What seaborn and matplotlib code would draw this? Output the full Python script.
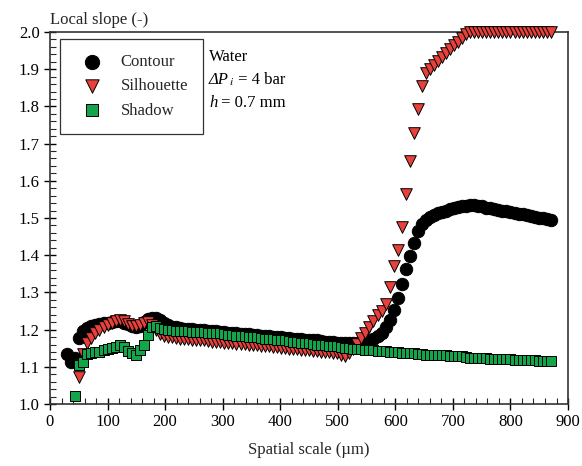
import numpy as np
import pandas as pd
import matplotlib
matplotlib.use("Agg")
import matplotlib.pyplot as plt
import seaborn as sns
from matplotlib.ticker import MultipleLocator
from matplotlib.offsetbox import TextArea, HPacker, VPacker, AnchoredOffsetbox

# spatial scale sampling (µm) and local slopes
SCALE_STEP = 7
contour = [
    1.135, 1.112, 1.125, 1.178, 1.196, 1.205, 1.210, 1.213, 1.215, 1.217,
    1.218, 1.220, 1.222, 1.222, 1.219, 1.214, 1.209, 1.207, 1.211, 1.220,
    1.228, 1.232, 1.232, 1.227, 1.219, 1.212, 1.208, 1.206, 1.204, 1.203,
    1.202, 1.201, 1.200, 1.200, 1.198, 1.197, 1.197, 1.195, 1.194, 1.193,
    1.192, 1.192, 1.190, 1.189, 1.189, 1.187, 1.186, 1.186, 1.184, 1.183,
    1.182, 1.181, 1.181, 1.179, 1.178, 1.178, 1.176, 1.175, 1.175, 1.173,
    1.172, 1.171, 1.171, 1.169, 1.168, 1.168, 1.166, 1.165, 1.164, 1.163,
    1.163, 1.164, 1.165, 1.167, 1.169, 1.172, 1.176, 1.183, 1.192, 1.207,
    1.225, 1.252, 1.285, 1.322, 1.362, 1.398, 1.432, 1.466, 1.485, 1.496,
    1.504, 1.509, 1.513, 1.517, 1.520, 1.523, 1.526, 1.529, 1.531, 1.533,
    1.534, 1.534, 1.533, 1.531, 1.528, 1.526, 1.524, 1.522, 1.520, 1.518,
    1.516, 1.514, 1.512, 1.510, 1.508, 1.506, 1.503, 1.501, 1.499, 1.497,
    1.494,
]
contour_start = 30

silhouette = [
    1.072, 1.135, 1.165, 1.178, 1.192, 1.200, 1.207, 1.212, 1.218, 1.222,
    1.225, 1.222, 1.216, 1.211, 1.209, 1.213, 1.219, 1.221, 1.212, 1.198,
    1.189, 1.184, 1.181, 1.180, 1.177, 1.176, 1.176, 1.174, 1.173, 1.172,
    1.171, 1.171, 1.169, 1.168, 1.168, 1.166, 1.165, 1.165, 1.163, 1.162,
    1.161, 1.161, 1.159, 1.158, 1.158, 1.156, 1.155, 1.155, 1.153, 1.152,
    1.151, 1.151, 1.149, 1.148, 1.148, 1.146, 1.145, 1.145, 1.143, 1.142,
    1.141, 1.141, 1.139, 1.138, 1.136, 1.133, 1.128, 1.138, 1.148, 1.162,
    1.178, 1.192, 1.207, 1.222, 1.238, 1.250, 1.268, 1.315, 1.370, 1.415,
    1.475, 1.565, 1.652, 1.728, 1.792, 1.855, 1.889, 1.900, 1.910, 1.922,
    1.932, 1.943, 1.954, 1.965, 1.974, 1.984, 1.994, 2.000, 2.000, 2.000,
    2.000, 2.000, 2.000, 2.000, 2.000, 2.000, 2.000, 2.000, 2.000, 2.000,
    2.000, 2.000, 2.000, 2.000, 2.000, 2.000, 2.000, 2.000,
]
silhouette_start = 51

shadow = [
    1.022, 1.105, 1.114, 1.134, 1.138, 1.140, 1.141, 1.144, 1.147, 1.150,
    1.154, 1.158, 1.153, 1.143, 1.137, 1.133, 1.145, 1.160, 1.186, 1.206,
    1.209, 1.204, 1.201, 1.199, 1.198, 1.197, 1.196, 1.195, 1.195, 1.194,
    1.194, 1.193, 1.193, 1.192, 1.192, 1.191, 1.190, 1.188, 1.186, 1.185,
    1.184, 1.183, 1.182, 1.181, 1.180, 1.179, 1.178, 1.176, 1.175, 1.174,
    1.173, 1.172, 1.171, 1.170, 1.168, 1.166, 1.165, 1.164, 1.163, 1.162,
    1.160, 1.159, 1.158, 1.157, 1.156, 1.155, 1.153, 1.151, 1.150, 1.149,
    1.148, 1.147, 1.146, 1.145, 1.144, 1.143, 1.142, 1.142, 1.141, 1.140,
    1.139, 1.138, 1.137, 1.137, 1.136, 1.135, 1.134, 1.133, 1.133, 1.132,
    1.132, 1.131, 1.131, 1.130, 1.130, 1.129, 1.128, 1.126, 1.125, 1.124,
    1.124, 1.123, 1.123, 1.122, 1.122, 1.121, 1.121, 1.120, 1.120, 1.119,
    1.119, 1.118, 1.118, 1.117, 1.117, 1.116, 1.116, 1.115, 1.115,
]
shadow_start = 44


def series_frame(values, start, name):
    x = start + SCALE_STEP * np.arange(len(values))
    return pd.DataFrame({"scale": x, "slope": values, "method": name})


df = pd.concat([
    series_frame(contour, contour_start, "Contour"),
    series_frame(silhouette, silhouette_start, "Silhouette"),
    series_frame(shadow, shadow_start, "Shadow"),
])

sns.set_style("ticks")
plt.rcParams["font.family"] = ["Liberation Serif", "DejaVu Serif"]
plt.rcParams["mathtext.fontset"] = "stix"
plt.rcParams["font.size"] = 12

fig = plt.figure(figsize=(5.82, 4.66), dpi=100)
ax = fig.add_axes([0.0859, 0.133, 0.8901, 0.7983])

styles = {
    "Contour":    dict(marker="o", color="black", s=80),
    "Silhouette": dict(marker="v", color="#e8403a", s=70),
    "Shadow":     dict(marker="s", color="#12a54a", s=58),
}
for z, (name, st) in enumerate(styles.items()):
    sub = df[df["method"] == name]
    sns.scatterplot(data=sub, x="scale", y="slope", ax=ax, label=name,
                    marker=st["marker"], color=st["color"], s=st["s"],
                    edgecolor="black", linewidth=0.7, clip_on=False,
                    zorder=3 + z)

ax.set_xlim(0, 900)
ax.set_ylim(1.0, 2.0)
ax.xaxis.set_major_locator(MultipleLocator(100))
ax.xaxis.set_minor_locator(MultipleLocator(20))
ax.yaxis.set_major_locator(MultipleLocator(0.1))
ax.yaxis.set_minor_locator(MultipleLocator(0.02))
ax.yaxis.set_major_formatter(matplotlib.ticker.FormatStrFormatter("%.1f"))
ax.tick_params(which="major", direction="inout", length=8, width=1,
               labelsize=12, colors="black", top=False, right=False)
ax.tick_params(which="minor", direction="in", length=4, width=0.8,
               top=False, right=False)
for sp in ax.spines.values():
    sp.set_linewidth(1.2)
    sp.set_color("#333333")

ax.set_xlabel("Spatial scale (µm)", fontsize=12, labelpad=8)
ax.set_ylabel("")
ax.text(0.0, 1.012, "Local slope (-)", transform=ax.transAxes,
        ha="left", va="bottom", fontsize=12)

leg = ax.legend(loc="upper left", bbox_to_anchor=(0.019, 0.981),
                borderaxespad=0, fontsize=12, frameon=True, fancybox=False,
                edgecolor="black", handletextpad=0.75, borderpad=0.9,
                labelspacing=0.5, handlelength=2.0, markerscale=1.15)
leg.get_frame().set_linewidth(0.9)

# conditions block: italic ΔP_i needs a text piece, mathtext keeps Δ upright
tp = dict(fontsize=12, color="black")
tpi = dict(fontsize=12, color="black", style="italic")
line_dp = HPacker(children=[TextArea("ΔP", textprops=tpi),
                            TextArea("$_{\\mathit{i}}$", textprops=tp),
                            TextArea(" = 4 bar", textprops=tp)],
                  align="baseline", pad=0, sep=0)
line_h = HPacker(children=[TextArea("h", textprops=tpi),
                           TextArea(" = 0.7 mm", textprops=tp)],
                 align="baseline", pad=0, sep=0)
block = VPacker(children=[TextArea("Water", textprops=tp), line_dp, line_h],
                align="left", pad=0, sep=5)
ax.add_artist(AnchoredOffsetbox(loc="upper left", child=block, pad=0,
                                borderpad=0, frameon=False,
                                bbox_to_anchor=(0.307, 0.955),
                                bbox_transform=ax.transAxes))

fig.savefig("out.png", dpi=100)
